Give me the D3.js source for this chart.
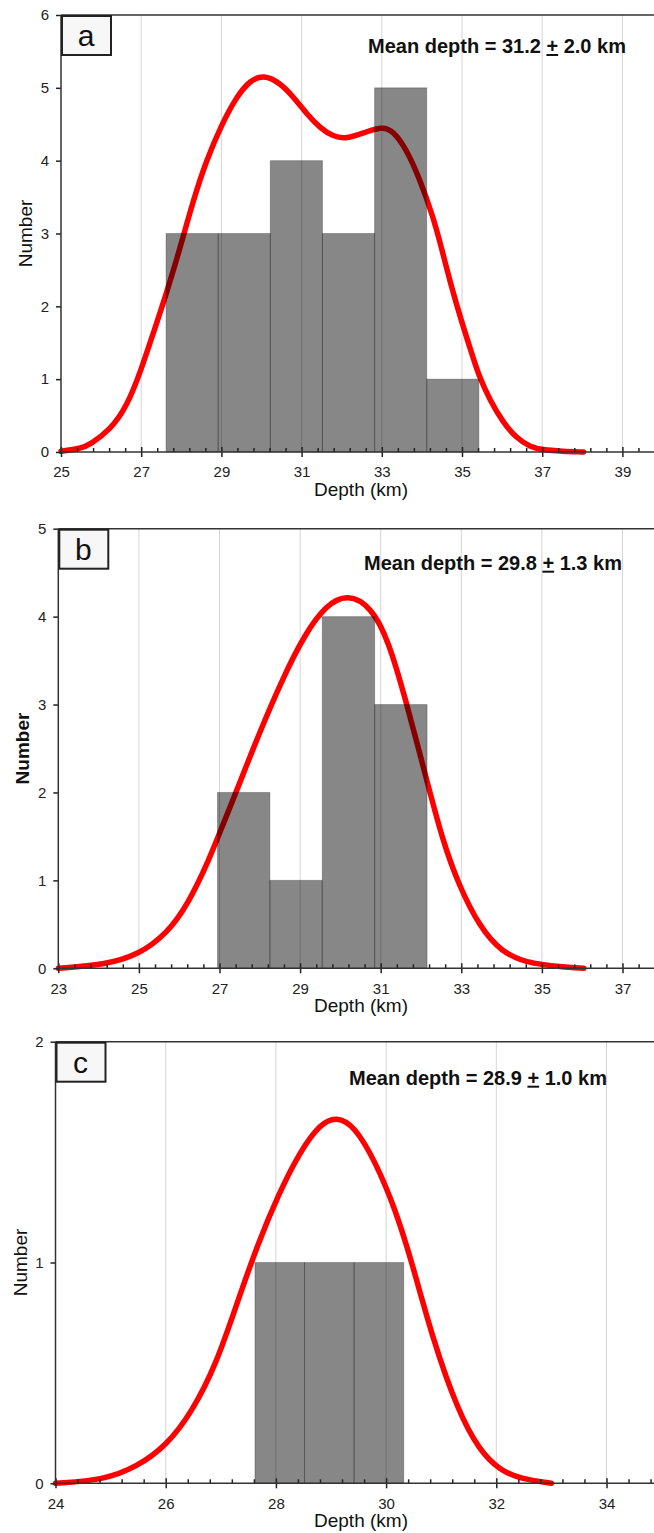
<!DOCTYPE html>
<html>
<head>
<meta charset="utf-8">
<title>Depth histograms</title>
<style>
  body { margin: 0; padding: 0; background: #fff; }
  svg { display: block; font-family: Arial, "Liberation Sans", sans-serif; }
  .grid line { stroke: #d4d4d4; stroke-width: 1px; }
  .axis text { font-size: 15px; fill: #222; }
  .axis line { stroke: #222; stroke-width: 1.5px; }
  .axis path { display: none; }
  .frame { stroke: #333; stroke-width: 1.5px; }
  .bar { fill: #000; fill-opacity: 0.47; stroke: #000; stroke-opacity: 0.25; stroke-width: 1px; }
  .curve { fill: none; stroke: #ff0000; stroke-width: 5.5px; stroke-linejoin: round; stroke-linecap: round; }
  .title { font-size: 19px; fill: #111; }
  .mean { font-size: 20px; font-weight: bold; fill: #111; }
  .tag rect { fill: #f7f7f7; stroke: #222; stroke-width: 2px; }
  .tag text { font-size: 30px; fill: #111; }
</style>
</head>
<body>
<svg></svg>

<script src="https://d3js.org/d3.v7.min.js"></script>
<script>
  // ---- panel a ----
  const binStartA = [27.62, 28.92, 30.22, 31.52, 32.82, 34.12];
  const countsA = [3, 3, 4, 3, 5, 1];
  const binWidthA = 1.3;
  const xTicksA = [25, 27, 29, 31, 33, 35, 37, 39];
  const yTicksA = [0, 1, 2, 3, 4, 5, 6];
  const curveA = [
    [25.0, 0.01], [25.5, 0.05], [25.72, 0.10], [26.22, 0.30], [26.64, 0.62],
    [27.0, 1.13], [27.3, 1.63], [27.62, 2.16], [27.97, 2.80], [28.3, 3.46],
    [28.63, 4.01], [29.0, 4.49], [29.38, 4.88], [29.71, 5.10], [30.05, 5.18],
    [30.46, 5.07], [30.79, 4.88], [31.13, 4.64], [31.46, 4.45], [31.79, 4.33],
    [32.12, 4.30], [32.54, 4.38], [33.0, 4.47], [33.29, 4.41], [33.62, 4.15],
    [33.95, 3.74], [34.28, 3.23], [34.49, 2.80], [34.7, 2.34], [35.0, 1.77],
    [35.24, 1.36], [35.43, 1.03], [35.7, 0.71], [36.03, 0.40], [36.36, 0.19],
    [36.7, 0.07], [37.0, 0.03], [37.5, 0.01], [38.03, 0.0]
  ];

  // ---- panel b ----
  const binStartB = [26.95, 28.25, 29.55, 30.85];
  const countsB = [2, 1, 4, 3];
  const binWidthB = 1.3;
  const xTicksB = [23, 25, 27, 29, 31, 33, 35, 37];
  const yTicksB = [0, 1, 2, 3, 4, 5];
  const curveB = [
    [23.0, 0.0], [24.15, 0.04], [24.98, 0.15], [25.71, 0.40], [26.23, 0.74],
    [26.74, 1.23], [27.16, 1.72], [27.47, 2.07], [27.98, 2.67], [28.6, 3.33],
    [29.12, 3.80], [29.64, 4.13], [30.18, 4.26], [30.77, 4.11], [31.19, 3.73],
    [31.6, 3.09], [32.12, 2.18], [32.53, 1.46], [32.95, 0.93], [33.46, 0.47],
    [33.98, 0.19], [34.7, 0.04], [36.04, 0.0]
  ];

  // ---- panel c ----
  const binStartC = [27.62, 28.52, 29.42];
  const countsC = [1, 1, 1];
  const binWidthC = 0.9;
  const xTicksC = [24, 26, 28, 30, 32, 34];
  const yTicksC = [0, 1, 2];
  const curveC = [
    [24.0, 0.0], [24.88, 0.015], [25.48, 0.075], [26.01, 0.17], [26.47, 0.32],
    [26.92, 0.54], [27.3, 0.82], [27.68, 1.09], [28.05, 1.31], [28.43, 1.50],
    [28.81, 1.63], [29.1, 1.66], [29.42, 1.62], [29.8, 1.46], [30.17, 1.24],
    [30.47, 1.00], [30.85, 0.65], [31.3, 0.33], [31.69, 0.15], [32.06, 0.06],
    [32.44, 0.02], [33.0, 0.0]
  ];

  const tags = ["a", "b", "c"];
  const means = [["31.2", "2.0"], ["29.8", "1.3"], ["28.9", "1.0"]];

  const W = 654, H = 1533;
  const svg = d3.select("svg").attr("width", W).attr("height", H);

  function drawPanel(p) {
    const g = svg.append("g");
    const bottom = p.top + p.height;
    const x = d3.scaleLinear()
      .domain([p.xMin, p.xMin + 16])
      .range([p.left, p.left + 16 * p.pxKm]);
    const y = d3.scaleLinear()
      .domain([0, d3.max(p.yTicks)])
      .range([bottom, p.top]);

    // vertical grid at major ticks
    g.append("g").attr("class", "grid")
      .selectAll("line")
      .data(p.xTicks.slice(1))
      .join("line")
      .attr("x1", d => x(d)).attr("x2", d => x(d))
      .attr("y1", p.top).attr("y2", bottom);

    // fitted curve under the bars
    g.append("path")
      .datum(p.curve)
      .attr("class", "curve")
      .attr("d", d3.line()
        .x(d => x(d[0]))
        .y(d => y(d[1]))
        .curve(d3.curveBasis));

    // histogram
    g.append("g")
      .selectAll("rect")
      .data(p.bins.map((b, i) => ({ x0: b, x1: b + p.binWidth, n: p.counts[i] })))
      .join("rect")
      .attr("class", "bar")
      .attr("x", d => x(d.x0))
      .attr("width", d => x(d.x1) - x(d.x0))
      .attr("y", d => y(d.n))
      .attr("height", d => y(0) - y(d.n));

    // minor ticks (upward)
    const minor = d3.range(p.xMin, p.xMin + 16, 0.4).filter(v => Math.abs((v - p.xMin) / 2 - Math.round((v - p.xMin) / 2)) > 0.01);
    g.append("g").attr("class", "axis")
      .attr("transform", `translate(0,${bottom})`)
      .call(d3.axisBottom(x).tickValues(minor).tickSize(-4).tickFormat(""));

    // major x ticks
    const xa = g.append("g").attr("class", "axis")
      .attr("transform", `translate(0,${bottom})`)
      .call(d3.axisBottom(x).tickValues(p.xTicks).tickSize(5).tickPadding(6).tickFormat(d3.format("d")));
    xa.selectAll(".tick line").attr("y1", -5);
    xa.selectAll(".tick text").attr("dy", "0.95em");

    // y ticks
    g.append("g").attr("class", "axis")
      .attr("transform", `translate(${p.left},0)`)
      .call(d3.axisLeft(y).tickValues(p.yTicks).tickSize(5).tickPadding(7).tickFormat(d3.format("d")));

    // frame lines
    g.append("line").attr("class", "frame")
      .attr("x1", p.left).attr("x2", W).attr("y1", bottom).attr("y2", bottom);
    g.append("line").attr("class", "frame")
      .attr("x1", p.left).attr("x2", W).attr("y1", p.top).attr("y2", p.top);
    g.append("line").attr("class", "frame")
      .attr("x1", p.left).attr("x2", p.left).attr("y1", p.top).attr("y2", bottom);

    // panel letter
    const tag = g.append("g").attr("class", "tag");
    tag.append("rect")
      .attr("x", p.left + 1).attr("y", p.top + 1)
      .attr("width", 49).attr("height", 39);
    tag.append("text")
      .attr("x", p.left + 25).attr("y", p.top + 31)
      .attr("text-anchor", "middle")
      .text(p.tag);

    // mean label
    const mt = g.append("text").attr("class", "mean")
      .attr("x", p.meanX).attr("y", p.top + p.meanDy)
      .attr("text-anchor", "middle");
    mt.append("tspan").text(`Mean depth = ${p.mean[0]} `);
    mt.append("tspan").attr("text-decoration", "underline").text("+");
    mt.append("tspan").text(` ${p.mean[1]} km`);

    // axis titles
    g.append("text").attr("class", "title")
      .attr("x", 361).attr("y", bottom + 44)
      .attr("text-anchor", "middle")
      .text("Depth (km)");
    g.append("text").attr("class", "title")
      .attr("transform", `translate(${p.left - 29},${(p.top + bottom) / 2}) rotate(-90)`)
      .attr("text-anchor", "middle")
      .attr("font-weight", p.boldY ? "bold" : "normal")
      .text("Number");
  }

  drawPanel({
    left: 61, top: 15, height: 437, pxKm: 40.1, xMin: 25,
    xTicks: xTicksA, yTicks: yTicksA, bins: binStartA, counts: countsA, binWidth: binWidthA,
    curve: curveA, tag: tags[0], mean: means[0], meanX: 497, meanDy: 38, boldY: false
  });
  drawPanel({
    left: 58.3, top: 528.7, height: 439.6, pxKm: 40.3, xMin: 23,
    xTicks: xTicksB, yTicks: yTicksB, bins: binStartB, counts: countsB, binWidth: binWidthB,
    curve: curveB, tag: tags[1], mean: means[1], meanX: 493, meanDy: 41, boldY: true
  });
  drawPanel({
    left: 55.5, top: 1041.7, height: 441.6, pxKm: 55.1, xMin: 24,
    xTicks: xTicksC, yTicks: yTicksC, bins: binStartC, counts: countsC, binWidth: binWidthC,
    curve: curveC, tag: tags[2], mean: means[2], meanX: 478, meanDy: 43, boldY: false
  });
</script>
</body>
</html>
